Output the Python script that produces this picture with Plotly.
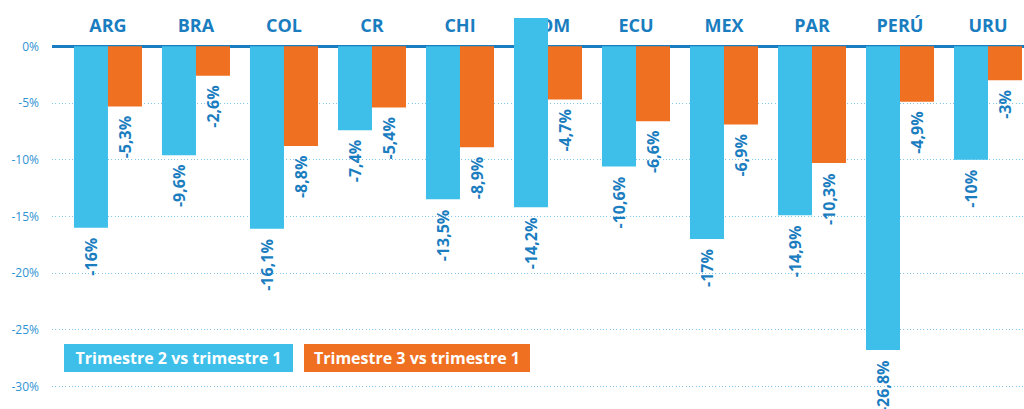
import plotly.graph_objects as go

categories = ["ARG", "BRA", "COL", "CR", "CHI", "DOM", "ECU", "MEX", "PAR", "PERÚ", "URU"]
q2_vs_q1 = [-16, -9.6, -16.1, -7.4, -13.5, -14.2, -10.6, -17, -14.9, -26.8, -10]
q2_bar_start = [0, 0, 0, 0, 0, 2.5, 0, 0, 0, 0, 0]
q3_vs_q1 = [-5.3, -2.6, -8.8, -5.4, -8.9, -4.7, -6.6, -6.9, -10.3, -4.9, -3]
series_names = ["Trimestre 2 vs trimestre 1", "Trimestre 3 vs trimestre 1"]
ytick_vals = [0, -5, -10, -15, -20, -25, -30]
ytick_text = ["0%", "-5%", "-10%", "-15%", "-20%", "-25%", "-30%"]

BLUE = "#3dbfea"
ORANGE = "#f07022"
DARK = "#1a7dc0"
FONT = "Open Sans"


def fmt(v):
    return f"{v:g}".replace(".", ",") + "%"


fig = go.Figure()
fig.add_trace(go.Bar(
    x=categories, y=[v - b for v, b in zip(q2_vs_q1, q2_bar_start)], base=q2_bar_start,
    marker=dict(color=BLUE, line=dict(width=0)), name=series_names[0], showlegend=False,
))
fig.add_trace(go.Bar(
    x=categories, y=q3_vs_q1,
    marker=dict(color=ORANGE, line=dict(width=0)), name=series_names[1], showlegend=False,
))

annotations = []
for c, v in zip(categories, q2_vs_q1):
    annotations.append(dict(x=c, y=v, xref="x", yref="y", text=fmt(v), showarrow=False,
                            textangle=-90, xanchor="center", yanchor="top", xshift=-17, yshift=-8,
                            font=dict(family=FONT, size=16, color=DARK, weight="bold")))
for c, v in zip(categories, q3_vs_q1):
    annotations.append(dict(x=c, y=v, xref="x", yref="y", text=fmt(v), showarrow=False,
                            textangle=-90, xanchor="center", yanchor="top", xshift=17, yshift=-8,
                            font=dict(family=FONT, size=16, color=DARK, weight="bold")))

# legend boxes
annotations.append(dict(x=0.01235, y=0.1593, xref="paper", yref="paper", xanchor="left", yanchor="top",
                        text=series_names[0], showarrow=False, bgcolor=BLUE, width=229, height=28,
                        borderwidth=0, borderpad=0, align="center", valign="middle",
                        font=dict(family=FONT, size=16, color="white", weight="bold")))
annotations.append(dict(x=0.2593, y=0.1593, xref="paper", yref="paper", xanchor="left", yanchor="top",
                        text=series_names[1], showarrow=False, bgcolor=ORANGE, width=226, height=28,
                        borderwidth=0, borderpad=0, align="center", valign="middle",
                        font=dict(family=FONT, size=16, color="white", weight="bold")))

fig.update_layout(
    width=1024, height=409,
    margin=dict(l=52, r=0, t=1, b=0, pad=0, autoexpand=False),
    paper_bgcolor="white", plot_bgcolor="white",
    barmode="group", bargap=0.227, bargroupgap=0,
    showlegend=False, hovermode=False,
    annotations=annotations,
    xaxis=dict(
        type="category", range=[-0.636, 10.409], side="top", anchor="free", position=0.915,
        showgrid=False, showline=False, zeroline=False, ticks="", layer="below traces",
        automargin=False,
        tickfont=dict(family=FONT, size=18, color=DARK, weight="bold"),
    ),
    yaxis=dict(
        range=[-32, 4], tickvals=ytick_vals, ticktext=ytick_text,
        showgrid=True, gridcolor="#84c6ea", gridwidth=1, griddash="1px,2.3px",
        zeroline=True, zerolinecolor=DARK, zerolinewidth=3,
        showline=False, ticks="", ticklabelstandoff=12, automargin=False,
        tickfont=dict(family=FONT, size=12, color="#2f93d3"),
    ),
)

fig.write_html("out.html", config={"displayModeBar": False},
               post_script="document.body.style.margin='0';document.body.style.overflow='hidden';")
